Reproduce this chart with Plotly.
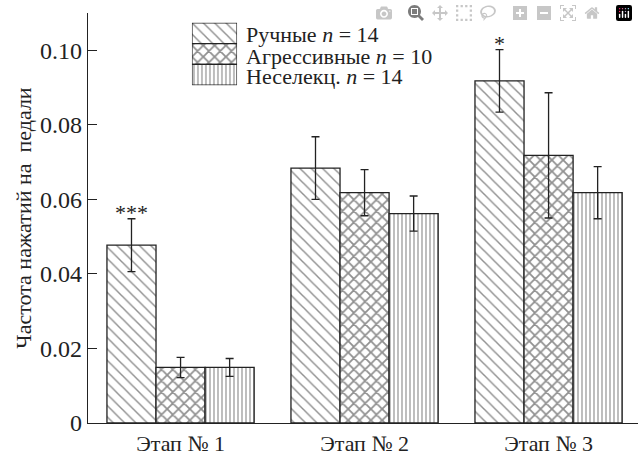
import plotly.graph_objects as go

stages = ["Этап № 1", "Этап № 2", "Этап № 3"]
series_names = ["Ручные", "Агрессивные", "Неселекц."]
series_n = [14, 10, 14]
manual = [0.0477, 0.0684, 0.0918]
manual_err = [0.0071, 0.0084, 0.0084]
aggressive = [0.0149, 0.0618, 0.0718]
aggressive_err = [0.0027, 0.0062, 0.0168]
nonselected = [0.0149, 0.0562, 0.0618]
nonselected_err = [0.0024, 0.0047, 0.0070]
y_ticks = [0, 0.02, 0.04, 0.06, 0.08, 0.10]
y_ticklabels = ["0", "0.02", "0.04", "0.06", "0.08", "0.10"]
signif = ["***", "", "*"]

FONT = "Liberation Serif"
shapes = ["\\", "x", "|"]
sizes = [8, 8, 4]
solid = [0.18, 0.4, 0.3]
values = [manual, aggressive, nonselected]
errs = [manual_err, aggressive_err, nonselected_err]
xs = list(range(len(stages)))

fig = go.Figure()
for i in range(3):
    fig.add_trace(go.Bar(
        x=xs, y=values[i], name=series_names[i],
        marker=dict(color="white",
                    line=dict(color="#222", width=1.3),
                    pattern=dict(shape=shapes[i], size=sizes[i], solidity=solid[i],
                                 fgcolor="#222", bgcolor="white")),
        error_y=dict(type="data", array=errs[i], color="#222", thickness=1.3, width=4),
        showlegend=False,
    ))

# legend keys drawn in a small separate subplot
for i in range(3):
    fig.add_trace(go.Bar(
        x=[1], y=[i], orientation="h", width=1, offset=-0.5,
        xaxis="x2", yaxis="y2",
        marker=dict(color="white",
                    line=dict(color="#222", width=1.3),
                    pattern=dict(shape=shapes[i], size=sizes[i], solidity=solid[i],
                                 fgcolor="#222", bgcolor="white")),
        showlegend=False, hoverinfo="skip",
    ))

ann = []
bw = 0.8 / 3
for k, s in enumerate(signif):
    if s:
        ann.append(dict(x=xs[k] - bw, y=manual[k] + manual_err[k], text=s,
                        showarrow=False, xanchor="center", yanchor="bottom",
                        yshift=-8, font=dict(family=FONT, size=22)))

# legend text
leg_y = [0.948, 0.895, 0.845]
for i in range(3):
    ann.append(dict(xref="paper", yref="paper", x=0.283, y=leg_y[i],
                    text=f"{series_names[i]} <i>n</i> = {series_n[i]}",
                    showarrow=False, xanchor="left", yanchor="middle",
                    font=dict(family=FONT, size=22)))

fig.update_layout(
    width=638, height=452,
    margin=dict(l=88, r=0, t=13, b=29),
    paper_bgcolor="white", plot_bgcolor="white",
    barmode="group", bargap=0.2, bargroupgap=0,
    font=dict(family=FONT, size=22, color="#222"),
    xaxis=dict(range=[-0.503, 2.486], tickvals=xs, ticktext=stages,
               showline=True, linecolor="#222", linewidth=1.3,
               ticks="", showgrid=False, zeroline=False, automargin=False,
               tickfont=dict(family=FONT, size=22)),
    yaxis=dict(range=[0, 0.110], tickvals=y_ticks, ticktext=y_ticklabels,
               showline=True, linecolor="#222", linewidth=1.3,
               ticks="inside", ticklen=9, tickcolor="#222", tickwidth=1.3,
               showgrid=False, zeroline=False, automargin=False,
               tickfont=dict(family=FONT, size=24),
               title=dict(text="Частота нажатий на  педали",
                          font=dict(family=FONT, size=22),
                          standoff=2)),
    xaxis2=dict(domain=[0.189, 0.271], range=[0, 1], visible=False, anchor="y2"),
    yaxis2=dict(domain=[0.824, 0.976], range=[2.5, -0.5], visible=False, anchor="x2"),
    annotations=ann,
)

fig.write_html("out.html",
               post_script="document.body.style.margin='0';document.body.style.padding='0';")
